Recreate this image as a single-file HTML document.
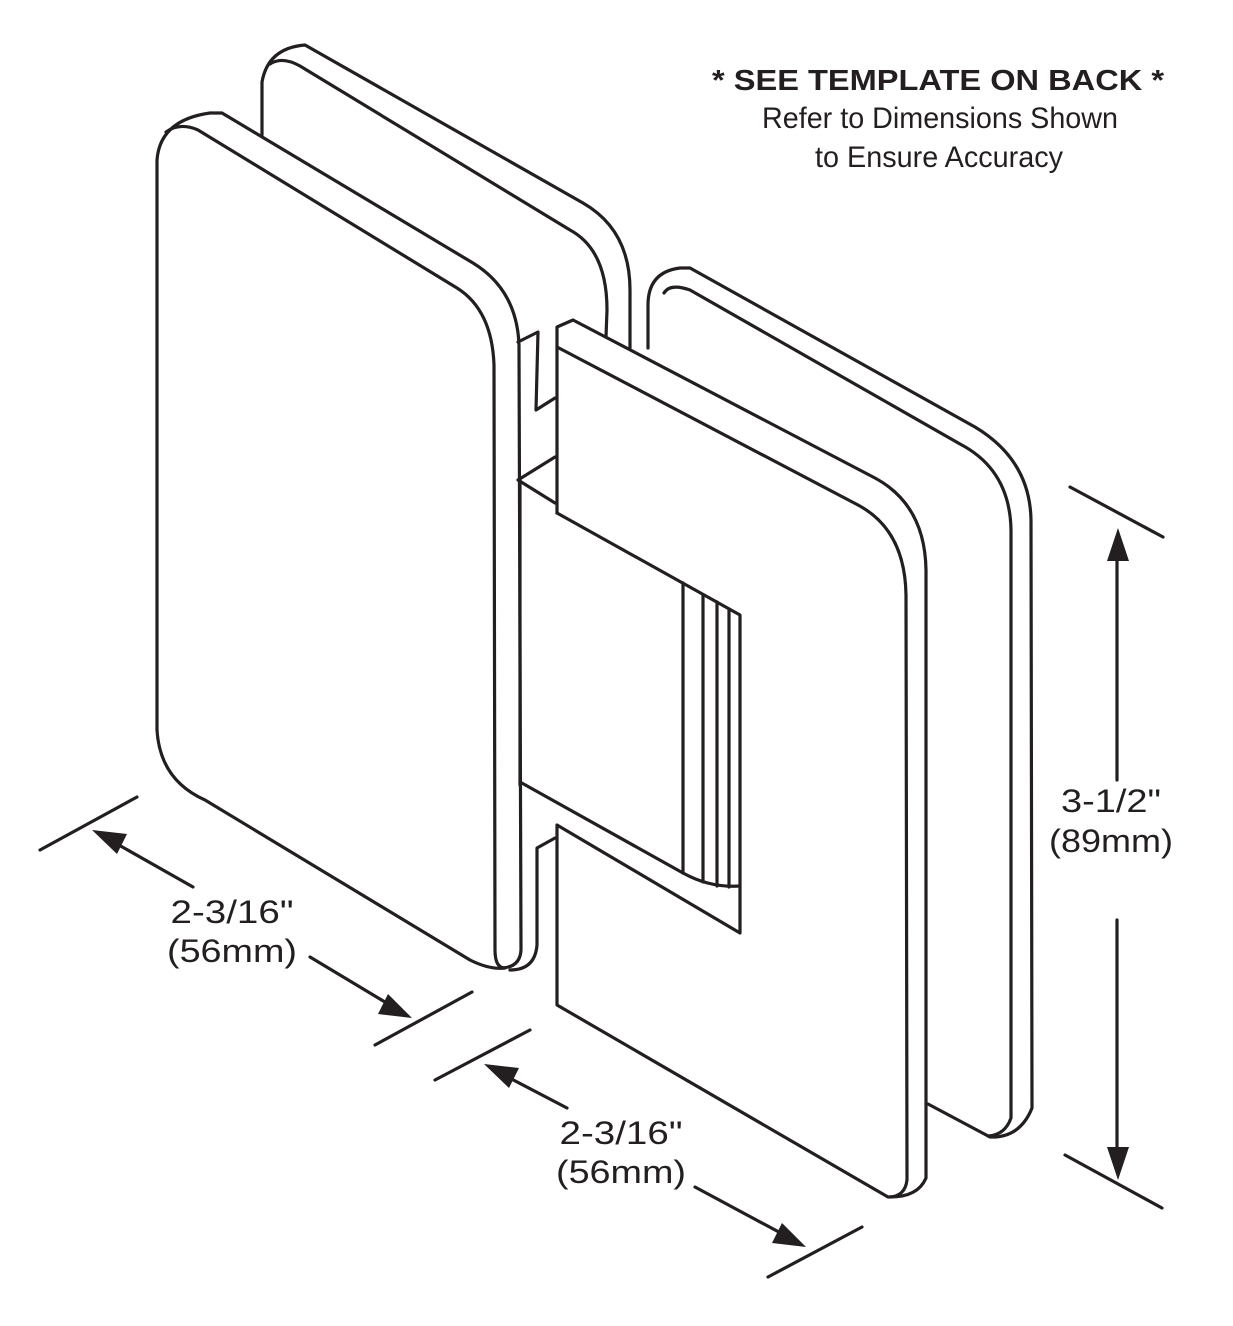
<!DOCTYPE html>
<html><head><meta charset="utf-8"><style>
html,body{margin:0;padding:0;background:#fff;}
svg{display:block;}
text{font-family:"Liberation Sans",sans-serif;fill:#231f20;}
</style></head><body>
<svg width="1233" height="1326" viewBox="0 0 1233 1326" xmlns="http://www.w3.org/2000/svg">
<g fill="none" stroke="#231f20" stroke-width="3.2" stroke-linejoin="round" stroke-linecap="round">
<!-- back-right plate -->
<path d="M648,348 L648,305 Q648,272 680,268 L690,268 L975,427 Q1030,460 1031,520 L1032,1108 Q1020,1138 990,1137 L928,1104"/>
<path d="M664,293 Q670,283 690,290 L960,444 Q1010,470 1011,530 L1011,1118 Q1005,1135 988,1136"/>
<!-- back-left plate -->
<path d="M262,135 L262,82 Q268,48 305,45 L583,203 Q630,230 630,290 L630,348"/>
<path d="M270,64 Q282,56 300,66 L570,230 Q607,250 607,310 L606,337"/>
<!-- left front plate -->
<path d="M157,730 L157,160 Q160,120 210,113 L222,113 L473,263 Q517,290 519,345 L521,950 Q520,968 500,968"/>
<path d="M166,132 Q180,122 198,130 L457,288 Q492,310 494,365 L495,950 Q495,968 505,968 Q490,970 470,960 L205,800 Q160,780 157,730"/>
<!-- hinge center -->
<path d="M518,342 L538,332 L536,410 L555,398"/>
<path d="M555,457 L518,480 L555,503"/>
<path d="M520,480 L520,785"/>
<path d="M520,782 L683,873 Q710,888 740,886"/>
<path d="M555,838 L537,848 L537,945 Q535,970 510,970"/>
<!-- right front plate -->
<path d="M557,513 L557,327 L573,320 L875,478 Q925,505 926,570 L926,1178 Q918,1197 890,1197"/>
<path d="M557,347 L858,505 Q905,530 906,595 L907,1180 Q905,1197 888,1197 L557,1005 L557,825 L740,933 L740,615 L557,513"/>
<path d="M683,583 L683,873 M703,595 L703,882 M717,602 L717,886 M729,609 L729,887"/>
<!-- dimension lines -->
<path d="M40,850 L137,797 M375,1045 L472,992"/>
<path d="M110,840 L193,887 M310,957 L395,1008"/>
<path d="M435,1080 L530,1030 M768,1277 L862,1227"/>
<path d="M500,1073 L567,1108 M695,1187 L790,1238"/>
<path d="M1070,487 L1163,537 M1065,1155 L1162,1208"/>
<path d="M1117,550 L1117,780 M1117,920 L1117,1158"/>
</g>
<g fill="#231f20">
<polygon points="92,830 127,834 117,854"/>
<polygon points="412,1018 378,1014 388,994"/>
<polygon points="484,1064 519,1068 509,1088"/>
<polygon points="806,1247 772,1243 782,1223"/>
<polygon points="1118,528 1107,561 1129,561"/>
<polygon points="1118,1180 1107,1147 1129,1147"/>
</g>
<text x="938" y="90" font-size="29" font-weight="bold" text-anchor="middle" textLength="452" lengthAdjust="spacingAndGlyphs">* SEE TEMPLATE ON BACK *</text>
<text x="940" y="128" font-size="30" text-anchor="middle" textLength="356" lengthAdjust="spacingAndGlyphs">Refer to Dimensions Shown</text>
<text x="939" y="167" font-size="30" text-anchor="middle" textLength="248" lengthAdjust="spacingAndGlyphs">to Ensure Accuracy</text>
<text x="232" y="923" font-size="32" text-anchor="middle" textLength="123" lengthAdjust="spacingAndGlyphs">2-3/16"</text>
<text x="232" y="962" font-size="32" text-anchor="middle" textLength="130" lengthAdjust="spacingAndGlyphs">(56mm)</text>
<text x="621" y="1144" font-size="32" text-anchor="middle" textLength="123" lengthAdjust="spacingAndGlyphs">2-3/16"</text>
<text x="621" y="1183" font-size="32" text-anchor="middle" textLength="130" lengthAdjust="spacingAndGlyphs">(56mm)</text>
<text x="1111" y="812" font-size="32" text-anchor="middle" textLength="100" lengthAdjust="spacingAndGlyphs">3-1/2"</text>
<text x="1111" y="852" font-size="32" text-anchor="middle" textLength="124" lengthAdjust="spacingAndGlyphs">(89mm)</text>
</svg>
</body></html>
